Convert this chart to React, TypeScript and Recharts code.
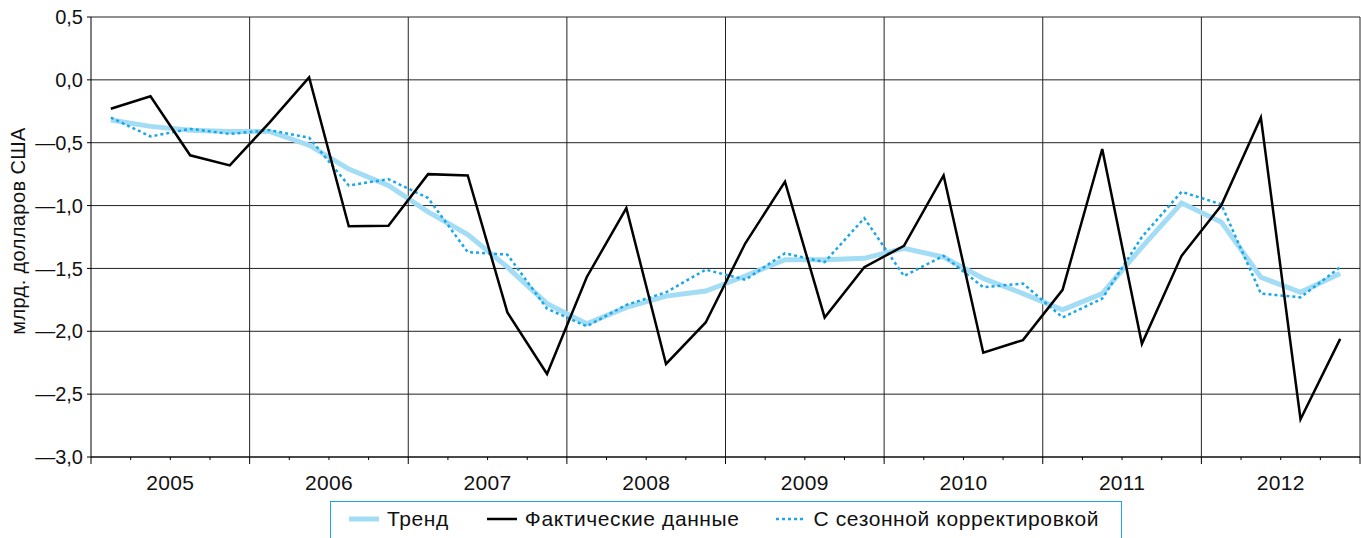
import React from 'react';
import { LineChart, Line, XAxis, YAxis, CartesianGrid, ReferenceLine, Legend } from 'recharts';

// годы и квартальные ряды, млрд. долларов США
const years = ['2005', '2006', '2007', '2008', '2009', '2010', '2011', '2012'];

const actual = [
  -0.23, -0.13, -0.6, -0.68, -0.34, 0.02, -1.165, -1.16,
  -0.75, -0.76, -1.85, -2.34, -1.57, -1.02, -2.26, -1.93,
  -1.3, -0.81, -1.89, -1.49, -1.32, -0.76, -2.17, -2.07,
  -1.67, -0.55, -2.1, -1.4, -1.0, -0.3, -2.7, -2.06,
];

const trend = [
  -0.32, -0.37, -0.4, -0.41, -0.41, -0.52, -0.71, -0.84,
  -1.05, -1.23, -1.49, -1.78, -1.94, -1.81, -1.72, -1.68,
  -1.56, -1.43, -1.43, -1.42, -1.34, -1.41, -1.58, -1.7,
  -1.83, -1.7, -1.33, -0.98, -1.13, -1.57, -1.69, -1.54,
];

const seasonal = [
  -0.3, -0.45, -0.39, -0.43, -0.4, -0.46, -0.84, -0.79,
  -0.94, -1.37, -1.39, -1.82, -1.96, -1.79, -1.69, -1.51,
  -1.59, -1.38, -1.45, -1.1, -1.56, -1.4, -1.65, -1.62,
  -1.89, -1.74, -1.25, -0.89, -0.99, -1.7, -1.73, -1.49,
];

const yTicks = [-3, -2.5, -2, -1.5, -1, -0.5, 0, 0.5];
const yearBounds = [4, 8, 12, 16, 20, 24, 28, 32];
const quarterTicks = Array.from({ length: 33 }, (_, i) => i);

const seriesNames = {
  trend: 'Тренд',
  actual: 'Фактические данные',
  seasonal: 'С сезонной корректировкой',
};

const data = actual.map((v, i) => ({
  x: i + 0.5,
  actual: v,
  trend: trend[i],
  seasonal: seasonal[i],
}));

const FONT = '"Liberation Sans", Arial, sans-serif';

const formatY = (v: number) => {
  const s = Math.abs(v).toFixed(1).replace('.', ',');
  return v < 0 ? '—' + s : s;
};

const QuarterTick = (props: any) => {
  const { x, y, payload } = props;
  const v = payload.value as number;
  const isYear = v % 4 === 0;
  return (
    <g>
      <line x1={x} x2={x} y1={y} y2={y + (isYear ? 7 : 3)} stroke="#000" strokeWidth={1} />
      {v % 4 === 2 && (
        <text x={x} y={y + 33} textAnchor="middle" fontSize={21} letterSpacing={0.3} fill="#111" fontFamily={FONT}>
          {years[Math.floor(v / 4)]}
        </text>
      )}
    </g>
  );
};

const LegendBox = () => (
  <div
    style={{
      boxSizing: 'border-box',
      width: 792,
      height: 44,
      border: '1.5px solid #1aa7e8',
      display: 'flex',
      alignItems: 'center',
      paddingLeft: 18,
      paddingBottom: 8,
      fontFamily: FONT,
      fontSize: 21,
      letterSpacing: 0.6,
      color: '#111',
      whiteSpace: 'nowrap',
    }}
  >
    <svg width={30} height={10} style={{ marginRight: 8 }}>
      <line x1={0} x2={30} y1={5} y2={5} stroke="#a3dcf5" strokeWidth={5} />
    </svg>
    <span style={{ marginRight: 38 }}>{seriesNames.trend}</span>
    <svg width={30} height={10} style={{ marginRight: 8 }}>
      <line x1={0} x2={30} y1={5} y2={5} stroke="#000" strokeWidth={2.5} />
    </svg>
    <span style={{ marginRight: 36 }}>{seriesNames.actual}</span>
    <svg width={30} height={10} style={{ marginRight: 8 }}>
      <line x1={0} x2={30} y1={5} y2={5} stroke="#1aa7e8" strokeWidth={2.5} strokeDasharray="3 3" />
    </svg>
    <span>{seriesNames.seasonal}</span>
  </div>
);

export default function App() {
  return (
    <div style={{ position: 'absolute', left: 0, top: 0, width: 1361, height: 538, background: '#fff', overflow: 'hidden' }}>
      <LineChart width={1361} height={538} data={data} margin={{ top: 17, right: 1, left: 0, bottom: 0 }}>
        <CartesianGrid vertical={false} stroke="#222" strokeWidth={1} />
        <XAxis
          dataKey="x"
          type="number"
          domain={[0, 32]}
          ticks={quarterTicks}
          interval={0}
          tick={<QuarterTick />}
          tickLine={false}
          tickSize={0}
          tickMargin={0}
          height={81}
          axisLine={{ stroke: '#000' }}
        />
        <YAxis
          type="number"
          domain={[-3, 0.5]}
          ticks={yTicks}
          interval={0}
          width={91}
          tickFormatter={formatY}
          tickSize={4}
          tickMargin={4}
          tickLine={{ stroke: '#000' }}
          axisLine={{ stroke: '#000' }}
          tick={{ fontSize: 20, fill: '#111', fontFamily: FONT }}
          label={{
            content: () => (
              <text
                x={18}
                y={231}
                transform="rotate(-90, 18, 231)"
                textAnchor="middle"
                dominantBaseline="central"
                fontSize={20}
                letterSpacing={0.4}
                fill="#111"
                fontFamily={FONT}
              >
                млрд. долларов США
              </text>
            ),
          }}
        />
        {yearBounds.map((b) => (
          <ReferenceLine key={b} x={b} stroke="#222" strokeWidth={1} />
        ))}
        <Line dataKey="trend" stroke="#a3dcf5" strokeWidth={5} dot={false} isAnimationActive={false} />
        <Line dataKey="seasonal" stroke="#1aa7e8" strokeWidth={2.5} strokeDasharray="3 3" dot={false} isAnimationActive={false} />
        <Line dataKey="actual" stroke="#000" strokeWidth={2.5} dot={false} isAnimationActive={false} />
        <Legend
          layout="horizontal"
          verticalAlign="middle"
          align="center"
          content={() => <LegendBox />}
          wrapperStyle={{ left: 330, top: 501, width: 792, height: 44 }}
        />
      </LineChart>
    </div>
  );
}
